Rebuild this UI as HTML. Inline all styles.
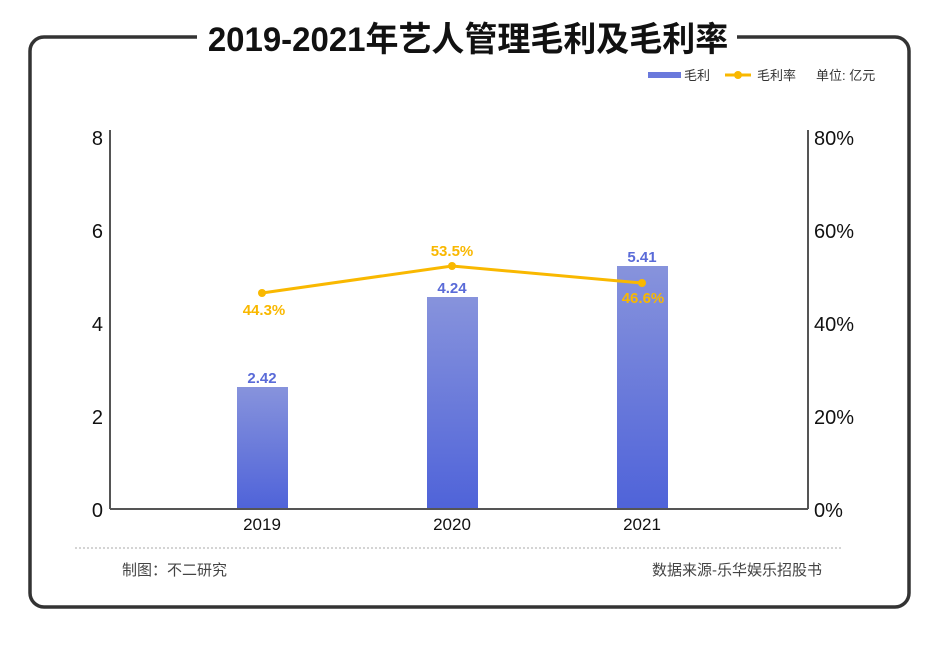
<!DOCTYPE html>
<html><head><meta charset="utf-8"><style>
body{margin:0;background:#fff;width:940px;height:644px;overflow:hidden}
text{font-family:"Liberation Sans","Noto Sans CJK SC",sans-serif}
</style></head><body>
<svg width="940" height="644" viewBox="0 0 940 644">
<defs><linearGradient id="g" x1="0" y1="0" x2="0" y2="1"><stop offset="0" stop-color="#8793dc"/><stop offset="1" stop-color="#4f63d9"/></linearGradient></defs>
<rect x="30" y="37" width="879" height="570" rx="14" fill="none" stroke="#333" stroke-width="3.5"/>
<rect x="197" y="15" width="540" height="40" fill="#fff"/>
<text x="468" y="51" text-anchor="middle" font-size="34" font-weight="bold" fill="#111" font-family="Noto Sans CJK SC,sans-serif" transform="translate(468 0) scale(0.97 1) translate(-468 0)">2019-2021年艺人管理毛利及毛利率</text>
<rect x="648" y="72" width="33" height="6" fill="#6a79dc"/>
<text x="684" y="80" font-size="13" fill="#333">毛利</text>
<line x1="725" y1="75" x2="751" y2="75" stroke="#f9b800" stroke-width="3"/><circle cx="738" cy="75" r="4" fill="#f9b800"/>
<text x="757" y="80" font-size="13" fill="#333">毛利率</text>
<text x="816" y="80" font-size="13" fill="#333">单位: 亿元</text>
<line x1="110" y1="130" x2="110" y2="509" stroke="#555" stroke-width="2"/>
<line x1="808" y1="130" x2="808" y2="509" stroke="#555" stroke-width="2"/>
<g font-size="20" fill="#111" text-anchor="end">
<text x="103" y="145">8</text><text x="103" y="238">6</text><text x="103" y="331">4</text><text x="103" y="424">2</text><text x="103" y="517">0</text></g>
<g font-size="20" fill="#111">
<text x="814" y="145">80%</text><text x="814" y="238">60%</text><text x="814" y="331">40%</text><text x="814" y="424">20%</text><text x="814" y="517">0%</text></g>
<rect x="237" y="387" width="51" height="122" fill="url(#g)"/>
<rect x="427" y="297" width="51" height="212" fill="url(#g)"/>
<rect x="617" y="266" width="51" height="243" fill="url(#g)"/>
<line x1="110" y1="509" x2="808" y2="509" stroke="#555" stroke-width="2"/>
<g font-size="15" font-weight="bold" fill="#5a6bd8" text-anchor="middle">
<text x="262" y="383">2.42</text><text x="452" y="293">4.24</text><text x="642" y="262">5.41</text></g>
<polyline points="262,293 452,266 642,283" fill="none" stroke="#f9b800" stroke-width="3"/>
<g fill="#f9b800"><circle cx="262" cy="293" r="4"/><circle cx="452" cy="266" r="4"/><circle cx="642" cy="283" r="4"/></g>
<g font-size="15" font-weight="bold" fill="#f9b800" text-anchor="middle">
<text x="264" y="315">44.3%</text><text x="452" y="256">53.5%</text><text x="643" y="303">46.6%</text></g>
<g font-size="17" fill="#111" text-anchor="middle">
<text x="262" y="530">2019</text><text x="452" y="530">2020</text><text x="642" y="530">2021</text></g>
<line x1="75" y1="548" x2="843" y2="548" stroke="#aaa" stroke-width="1" stroke-dasharray="2,2"/>
<text x="122" y="575" font-size="15" fill="#444">制图：不二研究</text>
<text x="822" y="575" font-size="15" fill="#444" text-anchor="end">数据来源-乐华娱乐招股书</text>
</svg>
</body></html>
